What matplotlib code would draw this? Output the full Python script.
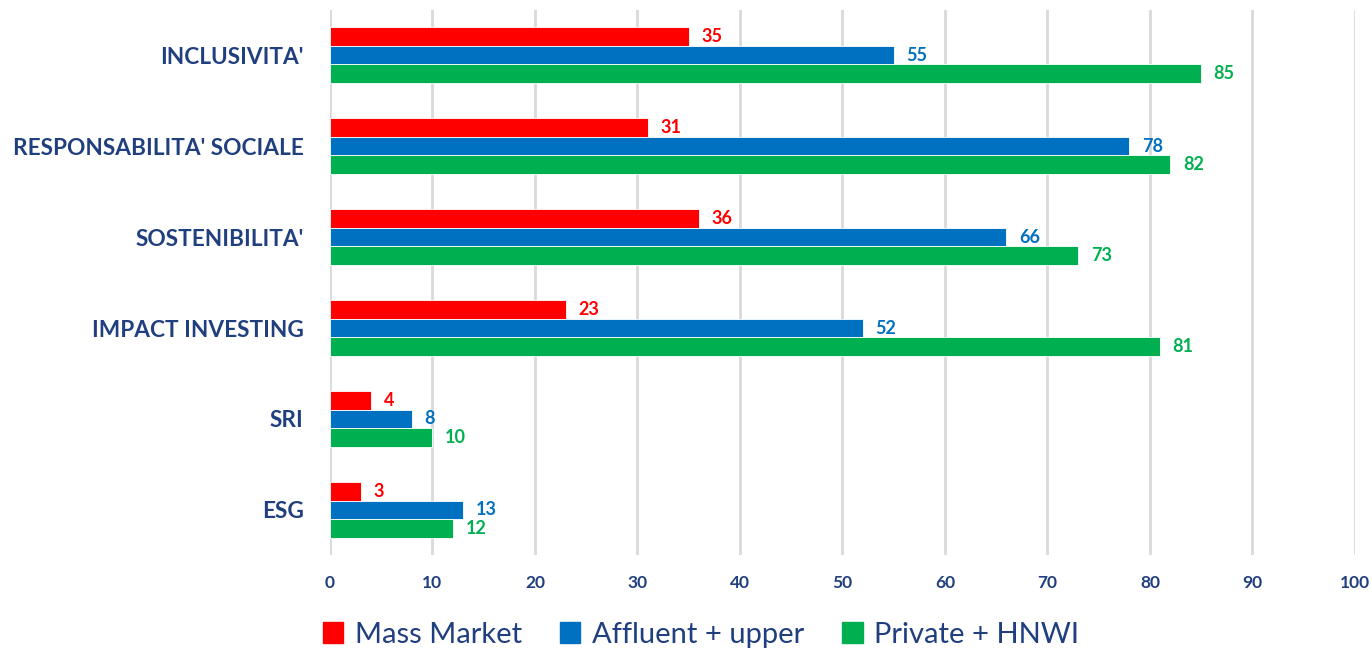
import numpy as np
import matplotlib.pyplot as plt
from matplotlib.patches import Patch

# dati
categorie = ["ESG", "SRI", "IMPACT INVESTING", "SOSTENIBILITA'",
             "RESPONSABILITA' SOCIALE", "INCLUSIVITA'"]
mass_market = [3, 4, 23, 36, 31, 35]
affluent = [13, 8, 52, 66, 78, 55]
private = [12, 10, 81, 73, 82, 85]
serie = ["Mass Market", "Affluent + upper", "Private + HNWI"]
colori = ["#FF0000", "#0070C0", "#00B050"]
testo = "#203F7F"

plt.rcParams['font.family'] = ['Lato', 'DejaVu Sans']

fig = plt.figure(figsize=(13.72, 6.51), dpi=100)
ax = fig.add_axes([0.2405, 0.1467, 0.7471, 0.8387])

y = np.arange(len(categorie))
h = 0.205
valori = [mass_market, affluent, private]
for i, (vals, col) in enumerate(zip(valori, colori)):
    pos = y + h * (1 - i)
    ax.barh(pos, vals, height=h, color=col, edgecolor='white', linewidth=0.6, zorder=3)
    for p, v in zip(pos, vals):
        ax.annotate(str(v), (v, p), xytext=(9, 0), textcoords='offset points',
                    va='center', ha='left', fontsize=13, fontweight='bold', color=col)

ax.set_xlim(0, 100)
ax.set_ylim(-0.5, 5.5)
ax.set_xticks(range(0, 101, 10))
ax.set_yticks(y)
ax.set_yticklabels(categorie, fontsize=16.3, fontweight='bold', color=testo)
ax.tick_params(axis='x', labelsize=12.5, labelcolor=testo, length=0, pad=14)
ax.tick_params(axis='y', length=0, pad=19)
for lab in ax.get_xticklabels():
    lab.set_fontweight('bold')
ax.grid(axis='x', color='#D9D9D9', linewidth=2, zorder=0)
for s in ax.spines.values():
    s.set_visible(False)

handles = [Patch(color=c) for c in colori]
fig.legend(handles, serie, loc='lower center', bbox_to_anchor=(0.511, -0.035), ncol=3,
           frameon=False, fontsize=21, labelcolor=testo, handlelength=0.7,
           handleheight=0.7, handletextpad=0.4, columnspacing=1.3)

fig.savefig('out.png', dpi=100)
